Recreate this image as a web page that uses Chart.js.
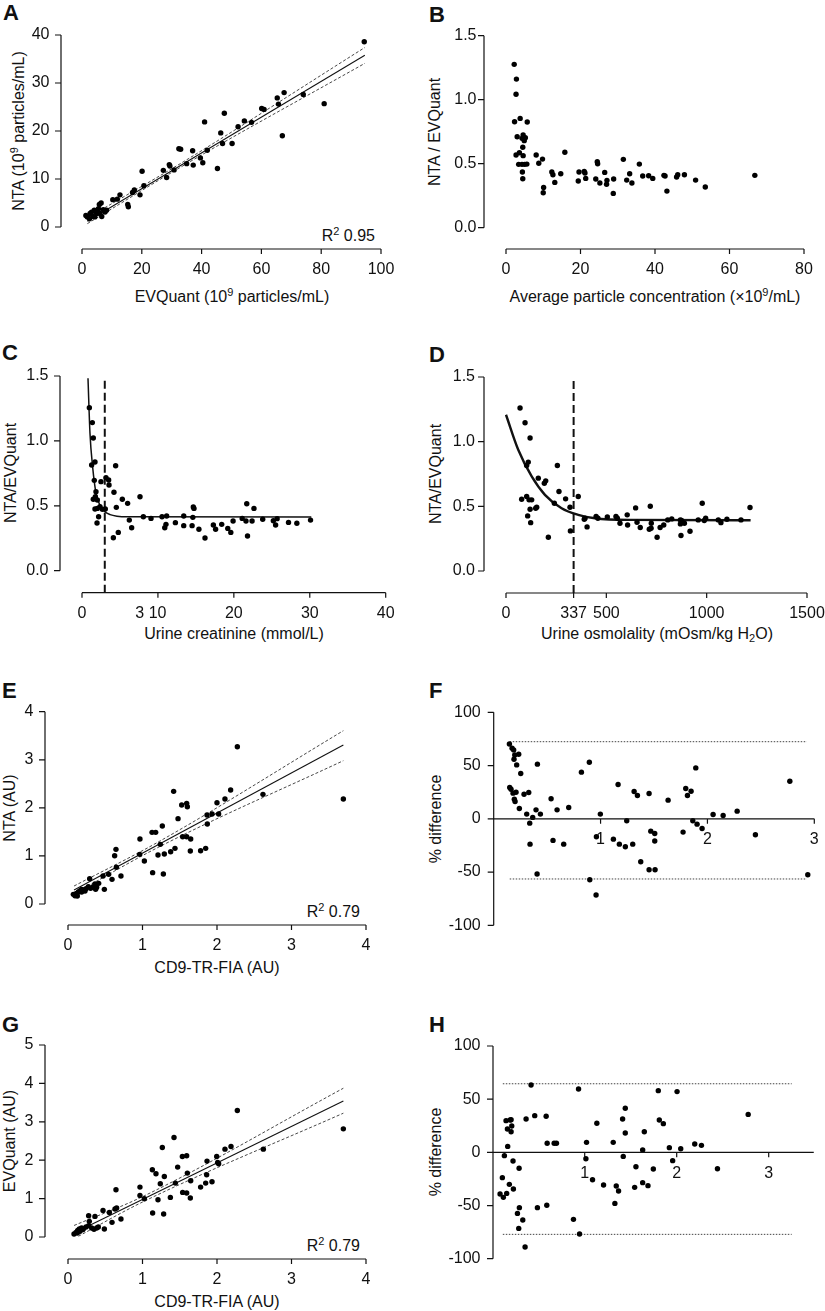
<!DOCTYPE html>
<html>
<head>
<meta charset="utf-8">
<title>NTA vs EVQuant</title>
<script src="https://cdn.jsdelivr.net/npm/chart.js@4.4.1/dist/chart.umd.min.js"></script>
<style>
  html, body { margin: 0; padding: 0; background: #fff; }
  #page { position: relative; width: 825px; height: 1311px; overflow: hidden;
          font-family: "Liberation Sans", Arial, sans-serif; color: #111; }
  #page canvas { position: absolute; }
  .t { position: absolute; white-space: nowrap; font-size: 16px; line-height: 16px; }
  .c { transform: translate(-50%, -50%); }
  .r { transform: translate(-50%, -50%) rotate(-90deg); }
  .rt { transform: translate(-100%, -50%); }
  .L { position: absolute; font-size: 22px; line-height: 22px; font-weight: bold; }
  sup { font-size: 11px; line-height: 0; vertical-align: 6px; }
  sub { font-size: 11px; line-height: 0; vertical-align: -3px; }
</style>
</head>
<body>
<div id="page">
  <!-- panel letters -->
  <div class="L" style="left:3px;top:2px">A</div>
  <div class="L" style="left:429px;top:4px">B</div>
  <div class="L" style="left:2px;top:342px">C</div>
  <div class="L" style="left:429px;top:344px">D</div>
  <div class="L" style="left:2px;top:680px">E</div>
  <div class="L" style="left:429px;top:680px">F</div>
  <div class="L" style="left:2px;top:1014px">G</div>
  <div class="L" style="left:429px;top:1014px">H</div>

  <!-- axis titles -->
  <div class="t c" style="left:232px;top:297px">EVQuant (10<sup>9</sup> particles/mL)</div>
  <div class="t r" style="left:19px;top:131px">NTA (10<sup>9</sup> particles/mL)</div>
  <div class="t c" style="left:655px;top:297px">Average particle concentration (×10<sup>9</sup>/mL)</div>
  <div class="t r" style="left:435px;top:132px">NTA / EVQuant</div>
  <div class="t c" style="left:234px;top:634px">Urine creatinine (mmol/L)</div>
  <div class="t r" style="left:11px;top:473px">NTA/EVQuant</div>
  <div class="t c" style="left:657px;top:634px">Urine osmolality (mOsm/kg H<sub>2</sub>O)</div>
  <div class="t r" style="left:436px;top:474px">NTA/EVQuant</div>
  <div class="t c" style="left:217px;top:968px">CD9-TR-FIA (AU)</div>
  <div class="t r" style="left:10px;top:808px">NTA (AU)</div>
  <div class="t r" style="left:436px;top:819px">% difference</div>
  <div class="t c" style="left:217px;top:1302px">CD9-TR-FIA (AU)</div>
  <div class="t r" style="left:10px;top:1141px">EVQuant (AU)</div>
  <div class="t r" style="left:436px;top:1152px">% difference</div>

  <!-- R squared -->
  <div class="t rt" style="left:375px;top:236px">R<sup>2</sup> 0.95</div>
  <div class="t rt" style="left:360px;top:912px">R<sup>2</sup> 0.79</div>
  <div class="t rt" style="left:360px;top:1246px">R<sup>2</sup> 0.79</div>
</div>

<script>
// ---- data ----

// A: NTA vs EVQuant (10^9 particles/mL)
const aEVQuant = [94.4,81.0,74.0,67.6,67.0,65.3,65.7,60.1,60.9,56.7,54.3,52.2,50.2,47.6,47.0,46.4,45.3,41.9,41.0,40.4,
  39.6,37.0,37.2,35.0,32.4,33.0,30.8,29.4,29.2,28.3,27.2,20.7,20.1,19.4,16.9,17.5,15.3,15.5,12.7,11.8,
  10.3,6.4,7.1,6.6,5.5,4.9,4.1,3.6,2.7,1.8,1.3,2.5,5.8,7.7,4.3,3.2,5.1,6.0,8.2];
const aNTA = [38.6,25.7,27.6,28.0,19.0,26.9,25.6,24.7,24.5,21.8,22.1,20.9,17.4,23.7,17.4,19.6,12.2,16.0,21.9,13.4,
  14.4,15.9,12.9,13.2,16.3,16.2,11.9,12.7,13.0,10.3,11.8,8.6,11.6,6.7,7.2,7.7,4.7,4.2,6.7,5.8,
  5.7,5.0,3.6,2.2,3.8,2.8,3.5,2.2,2.8,2.1,2.4,1.7,4.7,3.1,2.1,3.1,3.3,2.8,3.5];
const aFitX = [1.8, 94.6], aFitY = [1.2, 35.8];
const aUpperX = [1.8, 35, 94.6], aUpperY = [1.9, 14.0, 37.4];
const aLowerX = [1.8, 35, 94.6], aLowerY = [0.7, 13.2, 34.1];

// B: NTA/EVQuant vs average particle concentration
const bAverage = [2.2,2.8,2.7,2.3,3.0,2.7,3.8,5.7,4.3,4.6,5.2,4.9,4.5,3.6,4.6,3.4,4.3,5.0,5.6,4.4,
  4.5,8.1,9.8,8.8,10.1,10.0,12.3,12.6,13.1,14.7,15.8,19.6,19.4,21.0,21.2,21.4,24.5,24.6,24.1,25.2,
  26.5,27.1,27.0,28.8,28.9,31.5,32.4,33.2,33.8,35.8,36.7,38.3,39.4,42.4,42.7,43.2,45.8,46.1,47.9,50.9,53.5,66.8];
const bRatio = [1.276,1.161,1.042,0.828,0.711,0.568,0.854,0.826,0.698,0.724,0.703,0.680,0.628,0.586,0.563,0.495,0.495,0.495,0.497,0.435,
  0.383,0.568,0.536,0.503,0.315,0.273,0.435,0.414,0.354,0.422,0.589,0.435,0.365,0.440,0.427,0.385,0.516,0.500,0.380,0.349,
  0.432,0.370,0.339,0.268,0.380,0.534,0.372,0.422,0.349,0.497,0.404,0.406,0.385,0.409,0.404,0.286,0.396,0.414,0.414,0.372,0.318,0.409];

// C: NTA/EVQuant vs urine creatinine (mmol/L)
const cCreatinine = [0.97,1.36,1.49,1.27,1.71,1.62,1.49,1.76,1.84,2.02,1.71,2.02,2.19,1.98,2.37,2.5,2.68,3.07,3.16,3.51,
  3.56,4.43,4.21,4.52,4.13,4.78,5.31,6.01,6.23,6.54,7.64,8.08,9.09,10.54,11.15,10.9,11.06,12.3,13.4,13.4,
  14.5,14.66,14.75,14.6,15.4,16.2,17.3,17.6,18.4,19.2,19.6,19.9,21.1,21.7,21.6,21.8,22.4,22.65,23.8,25.2,
  25.5,25.7,27.2,28.3,30.1];
const cRatio = [1.256,1.141,1.022,0.814,0.837,0.696,0.55,0.57,0.609,0.545,0.475,0.48,0.416,0.367,0.493,0.686,0.473,0.475,0.717,0.699,
  0.66,0.809,0.604,0.488,0.254,0.295,0.55,0.519,0.39,0.331,0.57,0.416,0.403,0.416,0.421,0.331,0.357,0.37,0.421,0.347,
  0.347,0.491,0.48,0.411,0.319,0.252,0.352,0.319,0.357,0.326,0.295,0.383,0.403,0.516,0.383,0.267,0.383,0.48,0.396,0.385,
  0.352,0.401,0.372,0.365,0.39];
const cFitX = [0.79,1.05,1.4,1.84,2.4,3.0,3.7,4.6,6.0,30.2];
const cFitY = [1.482,1.06,0.80,0.60,0.50,0.455,0.432,0.42,0.415,0.414];
const cCutoff = 3;
const cCutY = [-0.17, 1.49];

// D: NTA/EVQuant vs urine osmolality
const dOsmolality = [70,95,120,103,111,78,103,115,128,120,108,123,148,153,161,191,198,211,241,256,
  264,297,319,321,360,390,394,404,449,458,505,548,555,568,604,606,646,653,669,714,
  723,719,724,753,768,786,806,826,869,875,869,872,889,917,958,978,988,995,1058,1071,1101,1171,1216];
const dRatio = [1.26,1.146,1.028,0.816,0.842,0.555,0.576,0.55,0.55,0.478,0.426,0.374,0.485,0.493,0.718,0.679,0.697,0.261,0.524,0.816,
  0.615,0.558,0.493,0.31,0.576,0.4,0.408,0.341,0.421,0.408,0.418,0.421,0.408,0.369,0.434,0.356,0.488,0.377,0.336,0.323,
  0.331,0.501,0.369,0.261,0.336,0.356,0.395,0.403,0.395,0.39,0.364,0.274,0.369,0.307,0.395,0.524,0.39,0.408,0.395,0.374,0.4,0.395,0.491];
const dFitX = [0,61,128,194,277,360,443,609,1219];
const dFitY = [1.208,0.937,0.731,0.589,0.485,0.434,0.408,0.395,0.392];
const dCutoff = 337;
const dCutY = [-0.17, 1.49];

// E: NTA (AU) vs CD9-TR-FIA (AU)
const eCD9 = [2.273,3.696,2.617,2.183,2.107,2.0,2.022,1.933,1.866,1.87,1.848,1.78,1.642,1.647,1.593,1.539,1.593,1.602,1.526,1.477,
  1.418,1.436,1.378,1.293,1.208,1.239,1.266,1.128,1.177,1.136,1.28,1.025,0.966,0.962,0.644,0.626,0.649,0.711,0.591,0.546,
  0.47,0.488,0.291,0.072,0.094,0.116,0.139,0.161,0.183,0.206,0.242,0.273,0.304,0.34,0.362,0.385,0.412,0.371,0.125,0.107,0.228,0.183];
const eNTA = [3.272,2.184,2.281,2.371,2.184,2.107,1.872,1.872,1.851,1.664,1.158,1.109,1.102,1.352,1.4,1.4,2.094,2.024,2.059,1.775,
  2.343,1.158,1.088,1.04,1.019,1.241,1.622,1.49,1.49,0.652,0.624,0.894,1.352,1.033,1.137,1.005,0.763,0.582,0.513,0.617,
  0.582,0.305,0.527,0.201,0.173,0.222,0.25,0.277,0.25,0.291,0.319,0.36,0.326,0.36,0.416,0.347,0.43,0.305,0.166,0.208,0.27,0.305];
const eFitX = [0.081, 3.696], eFitY = [0.291, 3.307];
const eUpperX = [0.081, 1.2, 3.696], eUpperY = [0.374, 1.28, 3.605];
const eLowerX = [0.081, 1.2, 3.696], eLowerY = [0.21, 1.17, 2.981];

// F: % difference NTA vs CD9-TR-FIA (Bland-Altman)
const fMean = [0.147,0.172,0.187,0.197,0.19,0.234,0.215,0.253,0.409,0.15,0.162,0.181,0.209,0.193,0.2,0.24,0.284,0.328,0.309,0.365,
  0.396,0.437,0.337,0.34,0.406,0.537,0.555,0.593,0.655,0.702,0.821,0.895,0.899,0.961,0.958,0.998,1.12,1.164,1.176,1.232,
  1.245,1.301,1.314,1.345,1.376,1.454,1.454,1.47,1.507,1.507,1.51,1.632,1.772,1.797,1.813,1.847,1.863,1.891,1.903,1.95,
  2.053,2.147,2.278,2.449,2.771,2.939];
const fDiff = [70.3,66.3,64.7,60.0,55.9,60.6,50.6,42.5,51.3,29.4,27.8,24.1,25.0,18.4,16.3,9.7,23.1,24.7,4.4,1.3,
  8.4,4.4,-4.1,-23.8,-51.9,18.8,-20.3,8.4,-23.8,10.6,43.8,53.1,-57.2,-16.9,-71.6,4.4,-19.1,32.2,-23.8,-26.3,
  -1.9,-23.8,25.6,21.9,-40.3,23.8,-47.8,-11.6,-13.8,-20.9,-47.8,17.5,-12.5,28.4,21.9,25.9,-1.9,47.8,-5.0,-9.1,
  4.1,3.1,7.2,-15.0,35.3,-52.5];
const fLimitX = [0.15, 2.93];
const fUpper = 72.4, fLower = -56.5;

// G: EVQuant (AU) vs CD9-TR-FIA (AU)
const gCD9 = [2.273,3.696,2.622,2.188,2.107,1.996,2.022,2.009,1.866,1.861,1.848,1.933,1.78,1.642,1.647,1.602,1.535,1.593,1.472,1.423,
  1.539,1.593,1.441,1.374,1.293,1.266,1.239,1.208,1.132,1.181,1.136,1.284,0.966,0.966,1.025,0.644,0.631,0.653,0.711,0.591,
  0.555,0.47,0.488,0.362,0.277,0.286,0.081,0.107,0.13,0.152,0.183,0.206,0.242,0.277,0.318,0.349,0.385,0.407,0.161,0.125,0.197];
const gEVQuant = [3.293,2.816,2.288,2.357,2.288,2.097,1.906,1.941,1.976,1.62,1.404,1.438,1.3,1.014,1.464,1.664,2.097,2.114,1.82,2.591,
  1.161,1.144,1.404,1.031,1.577,2.331,1.387,0.971,1.75,1.646,0.624,0.598,1.3,1.083,0.997,1.23,0.728,0.754,0.468,0.381,
  0.641,0.693,0.208,0.537,0.555,0.407,0.078,0.121,0.173,0.208,0.234,0.217,0.26,0.295,0.234,0.199,0.234,0.26,0.147,0.104,0.191];
const gFitX = [0.081, 3.696], gFitY = [0.104, 3.544];
const gUpperX = [0.081, 1.0, 3.696], gUpperY = [0.30, 1.05, 3.874];
const gLowerX = [0.14, 1.0, 3.696], gLowerY = [0.02, 0.91, 3.224];

// H: % difference EVQuant vs CD9-TR-FIA (Bland-Altman)
const hMean = [0.417,0.933,1.8,2.004,1.441,0.457,0.581,0.363,0.145,0.189,0.2,1.412,1.811,2.777,1.855,1.132,0.207,0.16,0.2,1.441,
  1.648,0.592,0.668,0.693,1.02,1.31,2.196,2.269,0.163,1.92,2.044,1.63,0.127,1.419,1.013,0.221,1.956,1.557,0.287,1.746,
  2.443,0.105,1.085,3.249,1.63,0.181,1.205,1.343,1.688,0.225,1.368,1.543,0.08,0.116,0.152,1.328,0.588,0.486,0.29,0.269,
  0.327,0.878,0.283,0.944,0.352];
const hDiff = [63.3,59.6,58.0,57.1,41.4,34.5,33.9,31.3,29.8,30.4,30.7,31.3,30.4,35.7,27.0,27.3,24.8,21.9,19.4,18.2,
  19.4,8.5,8.5,8.5,9.4,9.4,7.8,6.6,5.6,4.4,3.4,2.2,-3.1,-3.8,-6.0,-8.2,-7.8,-13.5,-15.0,-15.7,
  -15.4,-23.8,-25.7,-27.9,-28.5,-30.1,-30.7,-31.7,-31.3,-34.5,-36.4,-32.9,-39.2,-42.3,-38.6,-48.0,-49.8,-52.0,-52.0,-57.4,
  -63.6,-63.0,-71.5,-76.8,-89.0];
const hLimitX = [0.11, 3.25];
const hUpper = 64.5, hLower = -77.1;

// ---- helpers ----
const INK = '#111';
const TICK_FONT = '16px "Liberation Sans", Arial, sans-serif';

function zip(xs, ys) {
    const n = Math.min(xs.length, ys.length);
    const out = [];
    for (let i = 0; i < n; i++) out.push({ x: xs[i], y: ys[i] });
    return out;
}

function dots(xs, ys) {
    return {
        data: zip(xs, ys),
        showLine: false,
        pointRadius: 2.7,
        pointHoverRadius: 2.7,
        pointBackgroundColor: '#000',
        pointBorderWidth: 0,
        clip: false
    };
}

function line(xs, ys, width, dash, color, smooth) {
    return {
        data: zip(xs, ys),
        showLine: true,
        pointRadius: 0,
        pointHoverRadius: 0,
        borderColor: color || '#111',
        borderWidth: width,
        borderDash: dash || [],
        cubicInterpolationMode: smooth ? 'monotone' : 'default',
        fill: false,
        clip: false
    };
}

function hline(xs, v, width, dash, color) {
    return line(xs, xs.map(() => v), width, dash, color, false);
}

// R-style detached axes drawn through the chart's own scales
const baseAxes = {
    id: 'baseAxes',
    afterDatasetsDraw(chart, args, o) {
        const ctx = chart.ctx;
        const xs = chart.scales.x, ys = chart.scales.y;
        const ay = o.yAxis, ax = o.xAxis;
        ctx.save();
        ctx.strokeStyle = INK;
        ctx.fillStyle = INK;
        ctx.lineWidth = 1.2;
        ctx.font = TICK_FONT;

        // y axis
        const yT = ay.ticks;
        ctx.beginPath();
        ctx.moveTo(ay.at, ys.getPixelForValue(yT[0]));
        ctx.lineTo(ay.at, ys.getPixelForValue(yT[yT.length - 1]));
        yT.forEach(v => {
            const py = ys.getPixelForValue(v);
            ctx.moveTo(ay.at, py);
            ctx.lineTo(ay.at - 6, py);
        });
        ctx.stroke();
        ctx.textAlign = 'right';
        ctx.textBaseline = 'middle';
        yT.forEach(v => ctx.fillText(v.toFixed(ay.dec), ay.at - ay.gap, ys.getPixelForValue(v)));

        // x axis
        const xT = ax.ticks;
        const yPix = ax.at != null ? ax.at : ys.getPixelForValue(ax.atValue);
        const from = ax.from != null ? ax.from : xT[0];
        const to = ax.to != null ? ax.to : xT[xT.length - 1];
        ctx.beginPath();
        ctx.moveTo(xs.getPixelForValue(from), yPix);
        ctx.lineTo(xs.getPixelForValue(to), yPix);
        xT.forEach(v => {
            const px = xs.getPixelForValue(v);
            ctx.moveTo(px, yPix);
            ctx.lineTo(px, yPix + 5);
        });
        ctx.stroke();
        ctx.textAlign = 'center';
        xT.forEach(v => {
            const lab = (ax.labels && ax.labels[v] != null) ? ax.labels[v] : String(v);
            const dx = (ax.shift && ax.shift[v]) || 0;
            ctx.fillText(lab, xs.getPixelForValue(v) + dx, yPix + 21);
        });
        ctx.restore();
    }
};

const page = document.getElementById('page');

function makePanel(p) {
    const [bx, by, bw, bh] = p.box;
    const [l, r, t, b] = p.area;
    const cv = document.createElement('canvas');
    cv.width = bw;
    cv.height = bh;
    cv.style.left = bx + 'px';
    cv.style.top = by + 'px';
    cv.style.width = bw + 'px';
    cv.style.height = bh + 'px';
    page.appendChild(cv);

    const xAxis = Object.assign({}, p.xAxis, { at: p.xAxis.at != null ? p.xAxis.at - by : null });
    const yAxis = Object.assign({}, p.yAxis, { at: p.yAxis.at - bx });

    new Chart(cv, {
        type: 'scatter',
        data: { datasets: p.sets },
        options: {
            responsive: false,
            animation: false,
            devicePixelRatio: 1,
            events: [],
            layout: { padding: { left: l - bx, right: bx + bw - r, top: t - by, bottom: by + bh - b } },
            scales: {
                x: { type: 'linear', display: false, min: p.xr[0], max: p.xr[1] },
                y: { type: 'linear', display: false, min: p.yr[0], max: p.yr[1] }
            },
            plugins: {
                legend: { display: false },
                tooltip: { enabled: false },
                baseAxes: { xAxis: xAxis, yAxis: yAxis }
            }
        },
        plugins: [baseAxes]
    });
}

const DASH_CI = [3, 2];
const DOT = [1.5, 1.5];

const panels = [
    { box: [0, 0, 412, 290], area: [82, 381, 35, 227], xr: [0, 100], yr: [0, 40],
      yAxis: { at: 61, ticks: [0, 10, 20, 30, 40], gap: 11.5, dec: 0 },
      xAxis: { at: 249, ticks: [0, 20, 40, 60, 80, 100] },
      sets: [dots(aEVQuant, aNTA), line(aFitX, aFitY, 1.1),
             line(aUpperX, aUpperY, 0.9, DASH_CI, '#333', true), line(aLowerX, aLowerY, 0.9, DASH_CI, '#333', true)] },

    { box: [412, 0, 413, 290], area: [506, 804, 35.7, 227.7], xr: [0, 80], yr: [0, 1.5],
      yAxis: { at: 484, ticks: [0, 0.5, 1, 1.5], gap: 7.5, dec: 1 },
      xAxis: { at: 249, ticks: [0, 20, 40, 60, 80] },
      sets: [dots(bAverage, bRatio)] },

    { box: [0, 305, 412, 325], area: [82, 385.7, 376, 570.7], xr: [0, 40], yr: [0, 1.5],
      yAxis: { at: 60, ticks: [0, 0.5, 1, 1.5], gap: 11.5, dec: 1 },
      xAxis: { at: 592.7, ticks: [0, 10, 20, 30, 40], labels: { 10: '3 10' }, shift: { 10: -7 } },
      sets: [dots(cCreatinine, cRatio), line(cFitX, cFitY, 1.5, [], '#111', true),
             line([cCutoff, cCutoff], cCutY, 2, [8, 4])] },

    { box: [412, 305, 413, 325], area: [506, 807, 377, 571], xr: [0, 1500], yr: [0, 1.5],
      yAxis: { at: 484, ticks: [0, 0.5, 1, 1.5], gap: 9, dec: 1 },
      xAxis: { at: 593, ticks: [0, 337, 500, 1000, 1500] },
      sets: [dots(dOsmolality, dRatio), line(dFitX, dFitY, 2.4, [], '#111', true),
             line([dCutoff, dCutoff], dCutY, 2, [8, 4])] },

    { box: [0, 645, 412, 315], area: [68, 366, 711.7, 904], xr: [0, 4], yr: [0, 4],
      yAxis: { at: 45, ticks: [0, 1, 2, 3, 4], gap: 11.5, dec: 0 },
      xAxis: { at: 925, ticks: [0, 1, 2, 3, 4] },
      sets: [dots(eCD9, eNTA), line(eFitX, eFitY, 1.1),
             line(eUpperX, eUpperY, 0.9, DASH_CI, '#333', true), line(eLowerX, eLowerY, 0.9, DASH_CI, '#333', true)] },

    { box: [412, 645, 413, 315], area: [493.7, 814.3, 712.3, 925.3], xr: [0, 3], yr: [-100, 100],
      yAxis: { at: 493.7, ticks: [-100, -50, 0, 50, 100], gap: 13, dec: 0 },
      xAxis: { atValue: 0, from: 0, to: 3, ticks: [1, 2, 3] },
      sets: [dots(fMean, fDiff), hline(fLimitX, fUpper, 1, DOT, '#444'), hline(fLimitX, fLower, 1, DOT, '#444')] },

    { box: [0, 985, 412, 305], area: [68, 366, 1045, 1237], xr: [0, 4], yr: [0, 5],
      yAxis: { at: 45, ticks: [0, 1, 2, 3, 4, 5], gap: 11.5, dec: 0 },
      xAxis: { at: 1259, ticks: [0, 1, 2, 3, 4] },
      sets: [dots(gCD9, gEVQuant), line(gFitX, gFitY, 1.1),
             line(gUpperX, gUpperY, 0.9, DASH_CI, '#333', true), line(gLowerX, gLowerY, 0.9, DASH_CI, '#333', true)] },

    { box: [412, 985, 413, 305], area: [492.7, 768.7, 1046, 1258.7], xr: [0, 3], yr: [-100, 100],
      yAxis: { at: 493, ticks: [-100, -50, 0, 50, 100], gap: 12.5, dec: 0 },
      xAxis: { atValue: 0, from: 0, to: 3.49, ticks: [1, 2, 3] },
      sets: [dots(hMean, hDiff), hline(hLimitX, hUpper, 1, DOT, '#444'), hline(hLimitX, hLower, 1, DOT, '#444')] }
];

if (typeof Chart === 'undefined') {
    console.error('Chart.js not loaded');
} else {
    panels.forEach(makePanel);
}
</script>
</body>
</html>
